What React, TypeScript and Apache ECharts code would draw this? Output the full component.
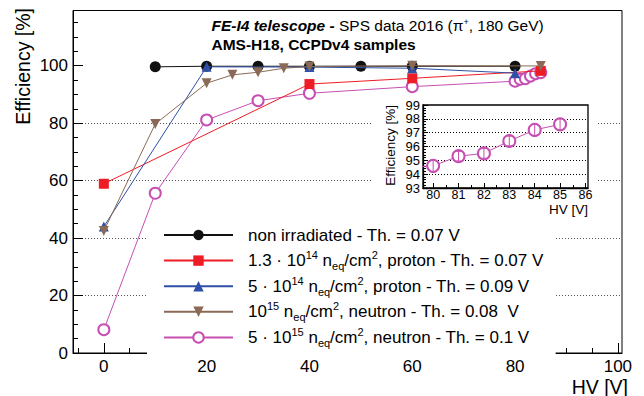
import React, { useEffect, useRef } from 'react';
import * as echarts from 'echarts';

// ---- data ----
const hvNonIrr = [10, 20, 30, 40, 50, 60, 80];
const effNonIrr = [99.6, 99.8, 99.8, 99.8, 99.8, 99.8, 99.8];

const hvP13e14 = [0, 40, 60, 85];
const effP13e14 = [58.9, 93.6, 95.6, 98.2];

const hvP5e14 = [0, 20, 40, 60, 80];
const effP5e14 = [44.0, 99.6, 99.5, 99.1, 97.4];

const hvN1e15 = [0, 10, 20, 25, 30, 35, 40, 60, 85];
const effN1e15 = [42.5, 79.7, 93.9, 96.8, 97.7, 99.1, 99.7, 100.0, 99.9];

const hvN5e15 = [0, 10, 20, 30, 40, 60, 80, 81, 82, 83, 84, 85];
const effN5e15 = [8.1, 55.6, 81.1, 87.8, 90.4, 92.7, 94.6, 95.3, 95.5, 96.4, 97.2, 97.6];

const insetHv = [80, 81, 82, 83, 84, 85];
const insetEff = [94.6, 95.3, 95.5, 96.4, 97.2, 97.6];
const insetErr = [0.45, 0.35, 0.35, 0.35, 0.45, 0.4];

const xMajorTicks = [0, 20, 40, 60, 80, 100];
const xMinorTicks = [-5, 5, 10, 15, 25, 30, 35, 45, 50, 55, 65, 70, 75, 85, 90, 95];
const yMajorTicks = [0, 20, 40, 60, 80, 100];
const yMinorTicks = [5, 10, 15, 25, 30, 35, 45, 50, 55, 65, 70, 75, 85, 90, 95, 105, 110, 115];
const insetXTicks = [80, 81, 82, 83, 84, 85, 86];
const insetXMinor = [80.5, 81.5, 82.5, 83.5, 84.5, 85.5];

const seriesNames = ['nonirr', 'p13e14', 'p5e14', 'n1e15', 'n5e15'];
const legendLabels: Record<string, string> = {
  nonirr: 'non irradiated - Th. = 0.07 V',
  p13e14: '1.3 · 10{sup|14} n{sub|eq}/cm{sup|2}, proton - Th. = 0.07 V',
  p5e14: '5 · 10{sup|14} n{sub|eq}/cm{sup|2}, proton - Th. = 0.09 V',
  n1e15: '10{sup|15} n{sub|eq}/cm{sup|2}, neutron - Th. = 0.08  V',
  n5e15: '5 · 10{sup|15} n{sub|eq}/cm{sup|2}, neutron - Th. = 0.1 V',
};

const FONT = "'Liberation Sans', Arial, Helvetica, sans-serif";
const C_BLACK = '#111111';
const C_RED = '#ee1c24';
const C_BLUE = '#2f50a6';
const C_BROWN = '#8a6a56';
const C_MAG = '#c64fb2';

const pairs = (xs: number[], ys: number[]) => xs.map((x, i) => [x, ys[i]]);

export default function App() {
  const ref = useRef<HTMLDivElement>(null);
  useEffect(() => {
    if (!ref.current) return;
    const chart = echarts.init(ref.current, null, { renderer: 'svg' });

    const mkLine = (name: string, xs: number[], ys: number[], color: string, symbol: string, size: number, z: number, extra: any = {}) => ({
      type: 'line',
      name,
      xAxisIndex: 0,
      yAxisIndex: 0,
      data: pairs(xs, ys),
      symbol,
      symbolSize: size,
      lineStyle: { color, width: 1 },
      itemStyle: { color, borderColor: color, borderWidth: symbol === 'emptyCircle' ? 1.2 : 0 },
      z,
      clip: true,
      ...extra,
    });

    const option: any = {
      animation: false,
      textStyle: { fontFamily: FONT },
      grid: [
        { left: 73, top: 10.5, right: 22, bottom: 43, show: true, borderColor: '#000', borderWidth: 1, backgroundColor: 'transparent', z: 0 },
        { left: 423, top: 105, width: 165, height: 83, show: true, borderColor: '#000', borderWidth: 1.3, backgroundColor: '#fff', z: 4 },
      ],
      xAxis: [
        {
          gridIndex: 0, type: 'value', min: -6, max: 100.8, position: 'bottom',
          axisLine: { onZero: false, lineStyle: { color: '#000', width: 1 } },
          axisTick: { inside: true, length: 10, customValues: xMajorTicks, lineStyle: { color: '#000' } },
          axisLabel: { customValues: xMajorTicks, fontSize: 17, lineHeight: 16, color: '#000', margin: 5, fontFamily: FONT },
          splitLine: { show: false },
        },
        {
          gridIndex: 0, type: 'value', min: -6, max: 100.8, position: 'bottom', offset: 0,
          axisLine: { show: false, onZero: false },
          axisTick: { inside: true, length: 5, customValues: xMinorTicks, lineStyle: { color: '#000' } },
          axisLabel: { show: false },
          splitLine: { show: false },
        },
        {
          gridIndex: 1, type: 'value', min: 79.6, max: 86.1, position: 'bottom', z: 5,
          axisLine: { onZero: false, lineStyle: { color: '#000', width: 1.3 } },
          axisTick: { inside: true, length: 5, customValues: insetXTicks, lineStyle: { color: '#000' } },
          axisLabel: { customValues: insetXTicks, fontSize: 12.5, lineHeight: 12, color: '#000', margin: 1, fontFamily: FONT },
          splitLine: { show: false },
        },
        {
          gridIndex: 1, type: 'value', min: 79.6, max: 86.1, position: 'bottom', offset: 0, z: 5,
          axisLine: { show: false, onZero: false },
          axisTick: { inside: true, length: 3, customValues: insetXMinor, lineStyle: { color: '#000' } },
          axisLabel: { show: false },
          splitLine: { show: false },
        },
      ],
      yAxis: [
        {
          gridIndex: 0, type: 'value', min: 0, max: 119.2, position: 'left',
          axisLine: { onZero: false, lineStyle: { color: '#000', width: 1 } },
          axisTick: { inside: true, length: 10, customValues: yMajorTicks, lineStyle: { color: '#000' } },
          axisLabel: { customValues: yMajorTicks, fontSize: 17, color: '#000', margin: 5, fontFamily: FONT },
          splitLine: {
            show: true,
            showMinLine: false,
            showMaxLine: false,
            lineStyle: { color: ['#555', '#555', '#555', '#555', '#555', '#000', '#000'], type: [1, 2], width: 1 },
          },
        },
        {
          gridIndex: 0, type: 'value', min: 0, max: 119.2, position: 'left', offset: 0,
          axisLine: { show: false, onZero: false },
          axisTick: { inside: true, length: 5, customValues: yMinorTicks, lineStyle: { color: '#000' } },
          axisLabel: { show: false },
          splitLine: { show: false },
        },
        {
          gridIndex: 1, type: 'value', min: 93, max: 99, interval: 1, position: 'left', z: 5,
          axisLine: { onZero: false, lineStyle: { color: '#000', width: 1.3 } },
          axisTick: { inside: true, length: 5, lineStyle: { color: '#000' } },
          minorTick: { show: true, splitNumber: 5, length: 3, lineStyle: { color: '#000' } },
          axisLabel: { fontSize: 13, color: '#000', margin: 3, fontFamily: FONT },
          splitLine: { show: true, showMinLine: false, showMaxLine: false, lineStyle: { color: '#000', type: [1, 2], width: 1 } },
        },
      ],
      legend: {
        data: seriesNames,
        orient: 'vertical',
        left: 147,
        top: 221,
        itemWidth: 69,
        itemHeight: 13,
        itemGap: 3.6,
        padding: [3, 12, 6, 16],
        backgroundColor: '#fff',
        selectedMode: false,
        z: 4,
        formatter: (name: string) => legendLabels[name],
        textStyle: {
          fontSize: 17,
          fontFamily: FONT,
          color: '#000',
          lineHeight: 22,
          padding: [0, 0, 0, 10],
          rich: {
            sup: { fontSize: 11, lineHeight: 11, verticalAlign: 'top', fontFamily: FONT, color: '#000' },
            sub: { fontSize: 11, lineHeight: 11, verticalAlign: 'bottom', fontFamily: FONT, color: '#000' },
          },
        },
      },
      graphic: [
        { type: 'rect', shape: { x: 372, y: 95, width: 225, height: 122 }, style: { fill: '#fff' }, z: 3 },
        {
          type: 'text', x: 211.5, y: 25.5, z: 10,
          style: {
            text: '{bi|FE-I4 telescope -} SPS data 2016 (π{sup|+}, 180 GeV)',
            fontSize: 15.5, fontFamily: FONT, fill: '#000', verticalAlign: 'middle', align: 'left',
            rich: {
              bi: { fontSize: 15.5, fontFamily: FONT, fontWeight: 'bold', fontStyle: 'italic', fill: '#000' },
              sup: { fontSize: 9, fontFamily: FONT, verticalAlign: 'top', lineHeight: 9, fill: '#000' },
            },
          },
        },
        {
          type: 'text', x: 211.5, y: 44.5, z: 10,
          style: { text: 'AMS-H18, CCPDv4 samples', fontSize: 15.5, fontWeight: 'bold', fontFamily: FONT, fill: '#000', verticalAlign: 'middle', align: 'left' },
        },
        {
          type: 'text', x: 22.5, y: 8, rotation: Math.PI / 2, z: 10,
          style: { text: 'Efficiency [%]', fontSize: 19.5, fontFamily: FONT, fill: '#000', align: 'right', verticalAlign: 'middle' },
        },
        {
          type: 'text', x: 628, y: 386.5, z: 10,
          style: { text: 'HV [V]', fontSize: 19.5, lineHeight: 16, fontFamily: FONT, fill: '#000', align: 'right', verticalAlign: 'middle' },
        },
        {
          type: 'text', x: 390, y: 105, rotation: Math.PI / 2, z: 10,
          style: { text: 'Efficiency [%]', fontSize: 13.5, fontFamily: FONT, fill: '#000', align: 'right', verticalAlign: 'middle' },
        },
        {
          type: 'text', x: 588, y: 209.5, z: 10,
          style: { text: 'HV [V]', fontSize: 13.5, lineHeight: 12, fontFamily: FONT, fill: '#000', align: 'right', verticalAlign: 'middle' },
        },
      ],
      series: [
        mkLine('n5e15', hvN5e15, effN5e15, C_MAG, 'emptyCircle', 11, 2),
        mkLine('nonirr', hvNonIrr, effNonIrr, C_BLACK, 'circle', 11, 3),
        mkLine('p13e14', hvP13e14, effP13e14, C_RED, 'rect', 10, 4),
        mkLine('p5e14', hvP5e14, effP5e14, C_BLUE, 'triangle', 10, 5),
        mkLine('n1e15', hvN1e15, effN1e15, C_BROWN, 'triangle', 10, 6, { symbolRotate: 180 }),
        {
          type: 'line',
          name: 'n5e15-inset',
          xAxisIndex: 2,
          yAxisIndex: 2,
          data: pairs(hvN5e15, effN5e15),
          symbol: 'emptyCircle',
          symbolSize: 12,
          lineStyle: { color: C_MAG, width: 1 },
          itemStyle: { color: C_MAG, borderColor: C_MAG, borderWidth: 1.2 },
          clip: true,
          z: 7,
        },
        {
          type: 'custom',
          name: 'n5e15-err',
          xAxisIndex: 2,
          yAxisIndex: 2,
          data: insetHv.map((x, i) => [x, insetEff[i], insetErr[i]]),
          z: 8,
          renderItem: (params: any, api: any) => {
            const x = api.value(0);
            const y = api.value(1);
            const e = api.value(2);
            const top = api.coord([x, y + e]);
            const bot = api.coord([x, y - e]);
            const st = { stroke: C_MAG, lineWidth: 1 };
            return {
              type: 'group',
              children: [
                { type: 'line', shape: { x1: top[0], y1: top[1], x2: bot[0], y2: bot[1] }, style: st },
                { type: 'line', shape: { x1: top[0] - 2.5, y1: top[1], x2: top[0] + 2.5, y2: top[1] }, style: st },
                { type: 'line', shape: { x1: bot[0] - 2.5, y1: bot[1], x2: bot[0] + 2.5, y2: bot[1] }, style: st },
              ],
            };
          },
        },
      ],
    };

    chart.setOption(option);
    return () => chart.dispose();
  }, []);

  return <div ref={ref} style={{ width: 644, height: 396, position: 'absolute', left: 0, top: 0 }} />;
}
